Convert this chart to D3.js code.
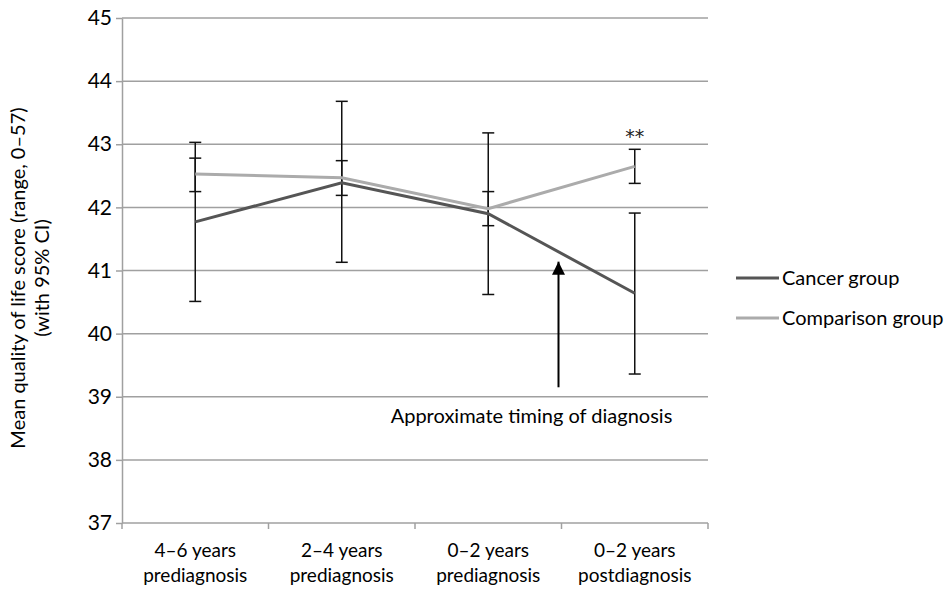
<!DOCTYPE html>
<html lang="en">
<head>
<meta charset="UTF-8">
<title>Quality of life score</title>
<script src="https://d3js.org/d3.v7.min.js"></script>
<style>
    body { margin: 0; background: #fff; }
    text { font-family: Lato, "Open Sans", sans-serif; fill: #000; }
    .grid line { stroke: #a0a0a0; stroke-width: 1.5; }
    .axis path, .axis line { stroke: #a0a0a0; stroke-width: 1.5; }
    .axis text { font-size: 19px; }
</style>
</head>
<body>
<svg id="chart" width="946" height="593"></svg>
<script>
const categories = [["4–6 years", "prediagnosis"], ["2–4 years", "prediagnosis"],
                    ["0–2 years", "prediagnosis"], ["0–2 years", "postdiagnosis"]];
const yTicks = [37, 38, 39, 40, 41, 42, 43, 44, 45];

const cancerMean = [41.77, 42.39, 41.90, 40.64];
const cancerLow  = [40.51, 41.13, 40.62, 39.36];
const cancerHigh = [43.03, 43.68, 43.18, 41.91];

const compMean = [42.53, 42.47, 41.98, 42.65];
const compLow  = [42.25, 42.19, 41.71, 42.38];
const compHigh = [42.78, 42.74, 42.25, 42.92];

const seriesNames = ["Cancer group", "Comparison group"];
const seriesColors = ["#555555", "#ababab"];

const margin = { top: 18, right: 238, bottom: 70, left: 122 };
const width = 946 - margin.left - margin.right;
const height = 593 - margin.top - margin.bottom;

const svg = d3.select("#chart")
    .append("g")
    .attr("transform", `translate(${margin.left},${margin.top})`);

const x = d3.scaleBand().domain(d3.range(categories.length)).range([0, width]);
const y = d3.scaleLinear().domain([37, 45]).range([height, 0]);

// gridlines
svg.append("g").attr("class", "grid")
    .selectAll("line")
    .data(yTicks.slice(1))
    .enter().append("line")
    .attr("x1", 0).attr("x2", width)
    .attr("y1", d => y(d)).attr("y2", d => y(d));

// y axis
svg.append("g").attr("class", "axis")
    .call(d3.axisLeft(y).tickValues(yTicks).tickSize(6).tickSizeOuter(0).tickPadding(4))
    .selectAll("text").style("font-size", "21px");

// x axis
const xAxis = svg.append("g").attr("class", "axis")
    .attr("transform", `translate(0,${height})`);
xAxis.append("line").attr("x1", 0).attr("x2", width);
xAxis.selectAll(".tk")
    .data(d3.range(categories.length + 1))
    .enter().append("line")
    .attr("x1", d => d * x.step()).attr("x2", d => d * x.step())
    .attr("y1", 0).attr("y2", 6);
xAxis.selectAll(".lbl")
    .data(categories)
    .enter().append("text")
    .attr("text-anchor", "middle")
    .attr("x", (d, i) => x(i) + x.bandwidth() / 2)
    .each(function(d) {
        const t = d3.select(this);
        t.append("tspan").attr("x", t.attr("x")).attr("y", 34).text(d[0]);
        t.append("tspan").attr("x", t.attr("x")).attr("y", 59).text(d[1]);
    });

const cx = i => x(i) + x.bandwidth() / 2;

function drawErrors(low, high) {
    const g = svg.append("g").attr("stroke", "#111").attr("stroke-width", 1.5);
    low.forEach((l, i) => {
        g.append("line").attr("x1", cx(i)).attr("x2", cx(i)).attr("y1", y(l)).attr("y2", y(high[i]));
        [l, high[i]].forEach(v => {
            g.append("line").attr("x1", cx(i) - 6).attr("x2", cx(i) + 6).attr("y1", y(v)).attr("y2", y(v));
        });
    });
}

const line = d3.line().x((d, i) => cx(i)).y(d => y(d));

drawErrors(cancerLow, cancerHigh);
drawErrors(compLow, compHigh);

svg.append("path").datum(compMean)
    .attr("d", line).attr("fill", "none")
    .attr("stroke", seriesColors[1]).attr("stroke-width", 3);
svg.append("path").datum(cancerMean)
    .attr("d", line).attr("fill", "none")
    .attr("stroke", seriesColors[0]).attr("stroke-width", 3);

// significance marker
svg.append("text")
    .attr("x", cx(3)).attr("y", y(compHigh[3]) - 6)
    .attr("text-anchor", "middle")
    .style("font-family", "'DejaVu Sans', sans-serif")
    .style("font-size", "19px").style("fill", "#222")
    .text("**");

// diagnosis arrow
const arrowX = (cx(2) + cx(3)) / 2 - 3;
svg.append("defs").append("marker")
    .attr("id", "arrow").attr("viewBox", "0 0 10 10")
    .attr("refX", 10).attr("refY", 5)
    .attr("markerWidth", 6.5).attr("markerHeight", 6.5)
    .attr("markerUnits", "strokeWidth")
    .attr("orient", "auto")
    .append("path").attr("d", "M0,0L10,5L0,10Z").attr("fill", "#000");
svg.append("line")
    .attr("x1", arrowX).attr("x2", arrowX)
    .attr("y1", y(39.15)).attr("y2", y(41.14))
    .attr("stroke", "#000").attr("stroke-width", 2)
    .attr("marker-end", "url(#arrow)");
svg.append("text")
    .attr("x", arrowX - 27).attr("y", y(39.15) + 36)
    .attr("text-anchor", "middle").style("font-size", "20px")
    .text("Approximate timing of diagnosis");

// legend
const legend = svg.append("g").attr("transform", `translate(${width + 28},0)`);
seriesNames.forEach((name, i) => {
    const ly = 260 + i * 40;
    legend.append("line").attr("x1", 0).attr("x2", 43)
        .attr("y1", ly).attr("y2", ly)
        .attr("stroke", seriesColors[i]).attr("stroke-width", 3);
    legend.append("text").attr("x", 46).attr("y", ly + 7)
        .style("font-size", "20px").text(name);
});

// y label
const yl = svg.append("text")
    .attr("transform", `translate(${-margin.left + 25},${260}) rotate(-90)`)
    .attr("text-anchor", "middle").style("font-size", "20px");
yl.append("tspan").attr("x", 0).attr("y", 0).text("Mean quality of life score (range, 0–57)");
yl.append("tspan").attr("x", 0).attr("y", 24).text("(with 95% CI)");
</script>
</body>
</html>
